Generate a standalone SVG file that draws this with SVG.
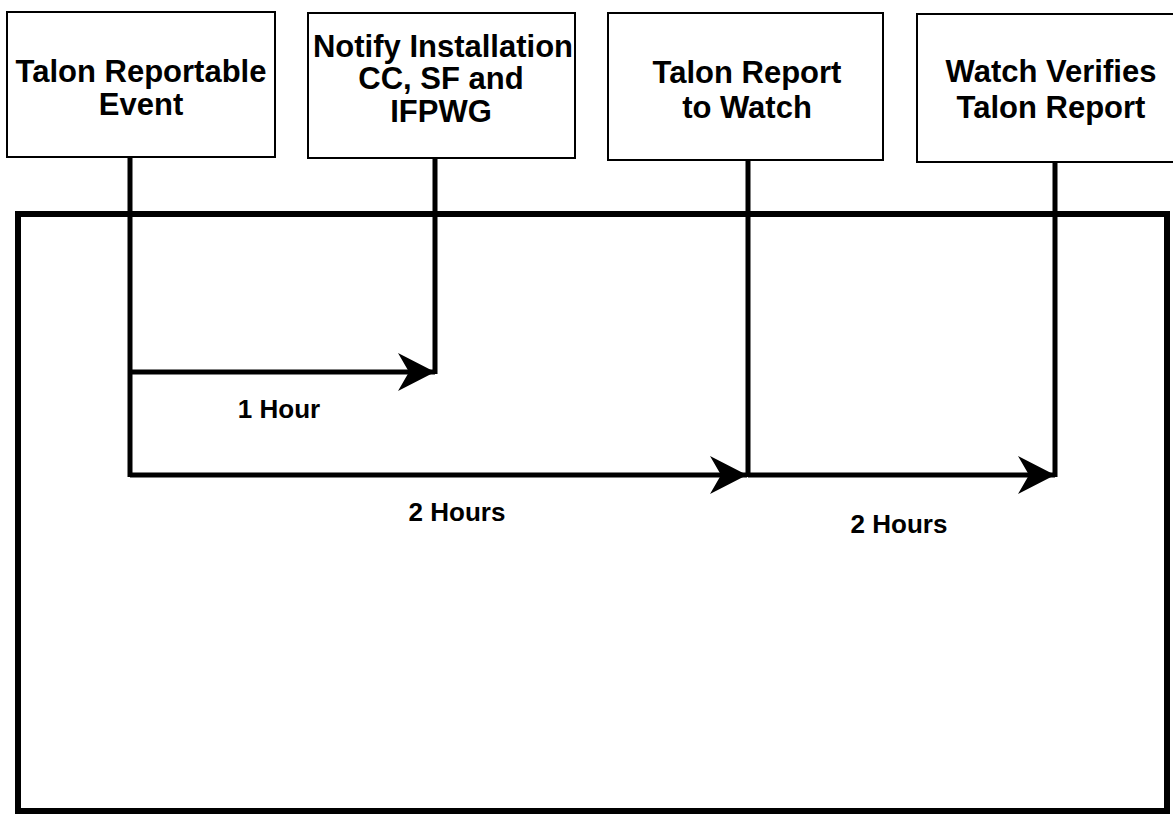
<svg xmlns="http://www.w3.org/2000/svg" width="1173" height="816" viewBox="0 0 1173 816">
  <style>
    .box { fill: #ffffff; stroke: #000000; stroke-width: 2; }
    .t { font-family: "Liberation Sans", Arial, sans-serif; font-weight: bold; font-size: 31px; fill: #000000; text-anchor: middle; }
    .lbl { font-family: "Liberation Sans", Arial, sans-serif; font-weight: bold; font-size: 26px; fill: #000000; text-anchor: middle; }
    .ln { stroke: #000000; stroke-width: 5; fill: none; }
    .frame { stroke: #000000; stroke-width: 6; fill: none; }
  </style>
  <defs>
    <marker id="arr" markerUnits="userSpaceOnUse" markerWidth="44" markerHeight="44" viewBox="-40 -22 44 44" refX="0" refY="0" orient="auto">
      <path d="M0,0 L-37,-19 L-26,0 L-37,19 Z" fill="#000000"/>
    </marker>
  </defs>
  <rect width="1173" height="816" fill="#ffffff"/>
  <rect class="frame" x="18" y="214" width="1149" height="597"/>
  <g id="connectors">
    <line class="ln" x1="130" y1="157" x2="130" y2="477"/>
    <line class="ln" x1="435" y1="158" x2="435" y2="374"/>
    <line class="ln" x1="748" y1="160" x2="748" y2="477"/>
    <line class="ln" x1="1055" y1="162" x2="1055" y2="477"/>
    <line class="ln" x1="130" y1="372" x2="435" y2="372" marker-end="url(#arr)"/>
    <line class="ln" x1="130" y1="475" x2="747" y2="475" marker-end="url(#arr)"/>
    <line class="ln" x1="748" y1="475" x2="1055" y2="475" marker-end="url(#arr)"/>
    <text class="lbl" x="279" y="418">1 Hour</text>
    <text class="lbl" x="457" y="521">2 Hours</text>
    <text class="lbl" x="899" y="533">2 Hours</text>
  </g>
  <g id="node1">
    <rect class="box" x="7" y="12" width="268" height="145"/>
    <text class="t" x="141" y="82">Talon Reportable</text>
    <text class="t" x="141" y="115">Event</text>
  </g>
  <g id="node2">
    <rect class="box" x="308" y="13" width="267" height="145"/>
    <text class="t" x="443" y="57">Notify Installation</text>
    <text class="t" x="441" y="89">CC, SF and</text>
    <text class="t" x="441" y="122">IFPWG</text>
  </g>
  <g id="node3">
    <rect class="box" x="608" y="13" width="275" height="147"/>
    <text class="t" x="747" y="83">Talon Report</text>
    <text class="t" x="747" y="118">to Watch</text>
  </g>
  <g id="node4">
    <rect class="box" x="917" y="14" width="270" height="148"/>
    <text class="t" x="1051" y="82">Watch Verifies</text>
    <text class="t" x="1051" y="118">Talon Report</text>
  </g>
</svg>
